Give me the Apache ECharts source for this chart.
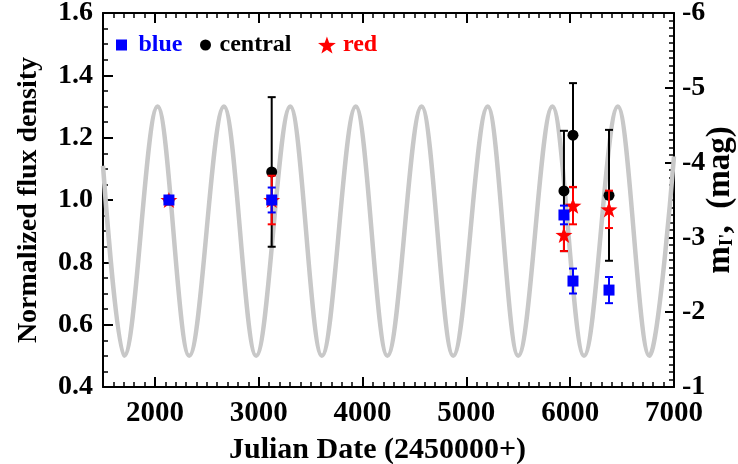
<!DOCTYPE html>
<html><head><meta charset="utf-8">
<script src="https://cdn.jsdelivr.net/npm/echarts@6/dist/echarts.min.js"></script>
<style>html,body{margin:0;padding:0;background:#fff}#c{width:738px;height:464px}</style>
</head><body><div id="c"></div>
<script>
// ---- data ----
const xTickValues = [2000, 3000, 4000, 5000, 6000, 7000];
const yLeftTicks = [0.4, 0.6, 0.8, 1.0, 1.2, 1.4, 1.6];
const yRightTicks = [-6, -5, -4, -3, -2, -1];

const blueX = [2135, 3125, 5940, 6027, 6374];
const blueY = [1.0, 1.0, 0.952, 0.740, 0.711];
const blueErr = [0, 0.04, 0.03, 0.04, 0.042];

const centralX = [2135, 3125, 5940, 6027, 6374];
const centralY = [1.0, 1.09, 1.029, 1.208, 1.015];
const centralErr = [0, 0.24, 0.193, 0.167, 0.21];

const redX = [2135, 3125, 5940, 6027, 6374];
const redY = [1.0, 1.0, 0.888, 0.982, 0.97];
const redErr = [0, 0.078, 0.052, 0.06, 0.06];

// model light curve: extrema
const curveX = [1500, 1704, 2026, 2330, 2665, 2975, 3304, 3608, 3935, 4239, 4569, 4873, 5206, 5499, 5829, 6133, 6459, 6763, 7000];
const curveY = [1.11, 0.50, 1.30, 0.50, 1.30, 0.50, 1.30, 0.50, 1.30, 0.50, 1.30, 0.50, 1.30, 0.50, 1.30, 0.50, 1.30, 0.50, 1.14];

// ---- chart ----
const FONT = 'Liberation Serif';
const zip3 = (xs, ys, es) => xs.map((x, i) => [x, ys[i], es[i]]);
const starPath = 'path://M0,-10L2.35,-3.24L9.51,-3.09L3.8,1.24L5.88,8.09L0,4.1L-5.88,8.09L-3.8,1.24L-9.51,-3.09L-2.35,-3.24Z';
const squarePath = 'path://M0,0L10,0L10,10L0,10Z';

function errRender(color, cap) {
  return function (params, api) {
    const x = api.value(0), y = api.value(1), e = api.value(2);
    if (!e) return null;
    const t = api.coord([x, y + e]), b = api.coord([x, y - e]);
    const st = {stroke: color, lineWidth: 2};
    return {type: 'group', children: [
      {type: 'line', shape: {x1: t[0], y1: t[1], x2: b[0], y2: b[1]}, style: st},
      {type: 'line', shape: {x1: t[0] - cap, y1: t[1], x2: t[0] + cap, y2: t[1]}, style: st},
      {type: 'line', shape: {x1: b[0] - cap, y1: b[1], x2: b[0] + cap, y2: b[1]}, style: st}
    ]};
  };
}

const lab = {fontFamily: FONT, fontWeight: 'bold', fontSize: 28, color: '#000'};
const xlab = {fontFamily: FONT, fontWeight: 'bold', fontSize: 29, color: '#000'};
const axLine = {show: true, lineStyle: {color: '#000', width: 2}};
const grid = {left: 103, right: 64, top: 13, bottom: 77, containLabel: false, outerBoundsMode: 'none'};
const legText = (c) => ({fontFamily: FONT, fontWeight: 'bold', fontSize: 24, color: c, lineHeight: 26});

const chart = echarts.init(document.getElementById('c'), null, {renderer: 'canvas'});
chart.setOption({
  animation: false,
  backgroundColor: '#fff',
  grid: [Object.assign({}, grid), Object.assign({}, grid)],
  legend: [
    {data: [{name: 'blue', icon: squarePath}], left: 116, top: 32, padding: 0, itemWidth: 24, itemHeight: 11, selectedMode: false,
     itemStyle: {opacity: 1}, textStyle: legText('#0000ff')},
    {data: [{name: 'central', icon: 'circle'}], left: 200, top: 32, padding: 0, itemWidth: 14, itemHeight: 11, selectedMode: false,
     itemStyle: {opacity: 1}, textStyle: Object.assign(legText('#000'), {padding: [0, 0, 0, 2]})},
    {data: [{name: 'red', icon: starPath}], left: 318, top: 32, padding: 0, itemWidth: 22, itemHeight: 17, selectedMode: false,
     itemStyle: {opacity: 1}, textStyle: legText('#ff0000')}
  ],
  xAxis: [
    {gridIndex: 0, type: 'value', position: 'bottom', min: 1500, max: 7000,
     name: 'Julian Date (2450000+)', nameLocation: 'middle', nameGap: 48,
     nameTextStyle: {fontFamily: FONT, fontWeight: 'bold', fontSize: 30, color: '#000', padding: [0, 22, 0, 0]},
     axisLine: axLine, splitLine: {show: false},
     axisTick: {show: true, inside: true, length: 10, customValues: xTickValues, lineStyle: {color: '#000', width: 2}},
     axisLabel: Object.assign({customValues: xTickValues, margin: 12, formatter: v => String(v)}, xlab)},
    {gridIndex: 0, type: 'value', position: 'top', min: 1500, max: 7000,
     axisLine: axLine, splitLine: {show: false},
     axisTick: {show: true, inside: true, length: 10, customValues: xTickValues, lineStyle: {color: '#000', width: 2}},
     axisLabel: {show: false}},
    {gridIndex: 1, type: 'value', position: 'bottom', min: 1500, max: 7000, interval: 100,
     axisLine: {show: false}, splitLine: {show: false}, axisLabel: {show: false},
     axisTick: {show: true, inside: true, length: 5, lineStyle: {color: '#000', width: 1.5}}},
    {gridIndex: 1, type: 'value', position: 'top', min: 1500, max: 7000, interval: 100,
     axisLine: {show: false}, splitLine: {show: false}, axisLabel: {show: false},
     axisTick: {show: true, inside: true, length: 5, lineStyle: {color: '#000', width: 1.5}}}
  ],
  yAxis: [
    {gridIndex: 0, type: 'value', position: 'left', min: yLeftTicks[0], max: yLeftTicks[yLeftTicks.length - 1], interval: 0.2,
     name: 'Normalized flux density', nameLocation: 'middle', nameGap: 60, nameTextStyle: lab,
     axisLine: axLine, splitLine: {show: false},
     axisTick: {show: true, inside: true, length: 10, lineStyle: {color: '#000', width: 2}},
     minorTick: {show: true, splitNumber: 4, length: 5, lineStyle: {color: '#000', width: 1.5}},
     axisLabel: Object.assign({margin: 10, formatter: v => v.toFixed(1)}, lab)},
    {gridIndex: 0, type: 'value', position: 'right', min: yRightTicks[0], max: yRightTicks[yRightTicks.length - 1], interval: 1, inverse: true,
     name: 'm{s|I\'},  (mag)', nameLocation: 'middle', nameGap: 30, nameRotate: 90, nameMoveOverlap: false,
     nameTextStyle: Object.assign({rich: {s: {fontFamily: FONT, fontWeight: 'bold', fontSize: 19, color: '#000', verticalAlign: 'bottom', padding: [13, 0, 0, 0]}}}, lab, {fontSize: 33}),
     axisLine: axLine, splitLine: {show: false},
     axisTick: {show: true, inside: true, length: 9, lineStyle: {color: '#000', width: 2}},
     minorTick: {show: true, splitNumber: 10, length: 5, lineStyle: {color: '#000', width: 1.5}},
     axisLabel: Object.assign({margin: 8}, lab)},
    {gridIndex: 1, type: 'value', min: 0, max: 1, show: false}
  ],
  series: [
    {name: 'model', type: 'line', xAxisIndex: 0, yAxisIndex: 0, showSymbol: false, symbol: 'none',
     smooth: 0.35, smoothMonotone: 'x',
     lineStyle: {color: '#c8c8c8', width: 4.5},
     data: curveX.map((x, i) => [x, curveY[i]]), z: 1},
    {name: 'central_err', type: 'custom', xAxisIndex: 0, yAxisIndex: 0, renderItem: errRender('#000', 4),
     encode: {x: 0, y: 1}, data: zip3(centralX, centralY, centralErr), z: 2},
    {name: 'central', type: 'scatter', xAxisIndex: 0, yAxisIndex: 0, symbol: 'circle', symbolSize: 11,
     itemStyle: {color: '#000', opacity: 1}, data: centralX.map((x, i) => [x, centralY[i]]), z: 3},
    {name: 'red_err', type: 'custom', xAxisIndex: 0, yAxisIndex: 0, renderItem: errRender('#ff0000', 4),
     encode: {x: 0, y: 1}, data: zip3(redX, redY, redErr), z: 4},
    {name: 'red', type: 'scatter', xAxisIndex: 0, yAxisIndex: 0, symbol: starPath, symbolSize: 17, symbolKeepAspect: true,
     itemStyle: {color: '#ff0000', opacity: 1}, data: redX.map((x, i) => [x, redY[i]]), z: 5},
    {name: 'blue_err', type: 'custom', xAxisIndex: 0, yAxisIndex: 0, renderItem: errRender('#0000ff', 4),
     encode: {x: 0, y: 1}, data: zip3(blueX, blueY, blueErr), z: 6},
    {name: 'blue', type: 'scatter', xAxisIndex: 0, yAxisIndex: 0, symbol: squarePath, symbolSize: 11,
     itemStyle: {color: '#0000ff', opacity: 1}, data: blueX.map((x, i) => [x, blueY[i]]), z: 7}
  ]
});
</script></body></html>
